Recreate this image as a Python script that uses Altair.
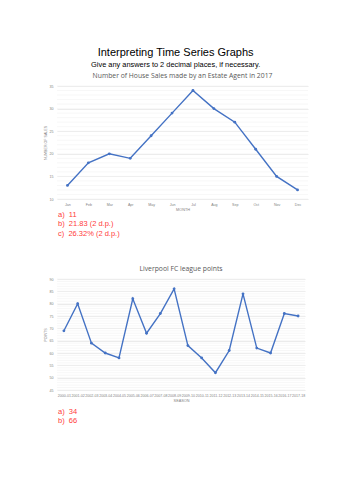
import altair as alt
import pandas as pd

months = ["Jan", "Feb", "Mar", "Apr", "May", "Jun", "Jul", "Aug", "Sep", "Oct", "Nov", "Dec"]
sales = [13, 18, 20, 19, 24, 29, 34, 30, 27, 21, 15, 12]

seasons = ["2000-01", "2001-02", "2002-03", "2003-04", "2004-05", "2005-06", "2006-07",
           "2007-08", "2008-09", "2009-10", "2010-11", "2011-12", "2012-13", "2013-14",
           "2014-15", "2015-16", "2016-17", "2017-18"]
points = [69, 80, 64, 60, 58, 82, 68, 76, 86, 63, 58, 52, 61, 84, 62, 60, 76, 75]

answers1 = ["a)\u00a0\u00a011", "b)\u00a0\u00a021.83 (2 d.p.)", "c)\u00a0\u00a026.32% (2 d.p.)"]
answers2 = ["a)\u00a0\u00a034", "b)\u00a0\u00a066"]

minor1 = list(range(10, 36))
minor2 = list(range(45, 91))

BLUE = "#4472c4"
RED = "#ff3b3b"
GRID = "#e2e2e2"
MINOR = "#f2f2f2"
LABEL = "#7f7f7f"

df1 = pd.DataFrame({"MONTH": months, "SALES": sales})
df2 = pd.DataFrame({"SEASON": seasons, "POINTS": points})


def panel(df, xf, yf, xorder, ytitle, dom, ticks, minor, answers, w, h, title, ans_y0):
    xenc = alt.X(f"{xf}:O", sort=xorder, title=xf,
                 scale=alt.Scale(type="point", padding=0.5),
                 axis=alt.Axis(labelAngle=0, labelFontSize=3.6, titleFontSize=3.8,
                               labelColor=LABEL, titleColor=LABEL, domain=False,
                               ticks=False, labelPadding=3, titlePadding=2,
                               labelFont="Liberation Sans", titleFont="Liberation Sans",
                               titleFontWeight="normal"))
    yscale = alt.Scale(domain=dom, nice=False, zero=False)
    yaxis = alt.Axis(values=ticks, labelFontSize=3.6, titleFontSize=3.6,
                     labelColor=LABEL, titleColor=LABEL, domain=False, ticks=False,
                     gridColor=GRID, gridWidth=0.7, labelPadding=4, titlePadding=2,
                     labelFont="Liberation Sans", titleFont="Liberation Sans",
                     titleFontWeight="normal")
    grid = alt.Chart(pd.DataFrame({"v": minor})).mark_rule(color=MINOR, strokeWidth=0.6).encode(
        y=alt.Y("v:Q", scale=yscale, axis=yaxis, title=ytitle)
    )
    line = alt.Chart(df).mark_line(color=BLUE, strokeWidth=1.4,
                                   point=alt.OverlayMarkDef(color=BLUE, size=8, filled=True)).encode(
        x=xenc,
        y=alt.Y(f"{yf}:Q", scale=yscale, title=ytitle, axis=yaxis)
    )
    layers = []
    for k, a in enumerate(answers):
        layers.append(
            alt.Chart(pd.DataFrame({"t": [a]})).mark_text(
                align="left", baseline="middle", color=RED, fontSize=7.5,
                font="Liberation Sans").encode(
                x=alt.value(1), y=alt.value(ans_y0 + k * 9.3), text="t:N")
        )
    return alt.layer(grid, line, *layers).properties(
        width=w, height=h,
        title=alt.TitleParams(title, fontSize=6.8, color="#595959", font="Open Sans",
                              fontWeight="normal", offset=4)
    )


c1 = panel(df1, "MONTH", "SALES", months, "NUMBER OF SALES", [10, 35],
           [10, 15, 20, 25, 30, 35], minor1, answers1, 251, 113,
           "Number of House Sales made by an Estate Agent in 2017", 129)
c2 = panel(df2, "SEASON", "POINTS", seasons, "POINTS", [45, 90],
           list(range(45, 91, 5)), minor2, answers2, 248, 111,
           "Liverpool FC league points", 133)

chart = alt.vconcat(c1, c2, spacing=28).properties(
    title=alt.TitleParams("Interpreting Time Series Graphs",
                          subtitle="Give any answers to 2 decimal places, if necessary.",
                          fontSize=11, font="Liberation Sans", fontWeight="normal",
                          color="#000000", subtitleFontSize=7.4, subtitleFont="Liberation Sans",
                          subtitleColor="#000000", anchor="middle", subtitlePadding=3, offset=5),
    padding={"left": 43, "top": 46, "right": 0, "bottom": 0},
    background="white",
).configure_view(stroke=None)

chart.save("out.html", embed_options={"renderer": "svg", "actions": False})
